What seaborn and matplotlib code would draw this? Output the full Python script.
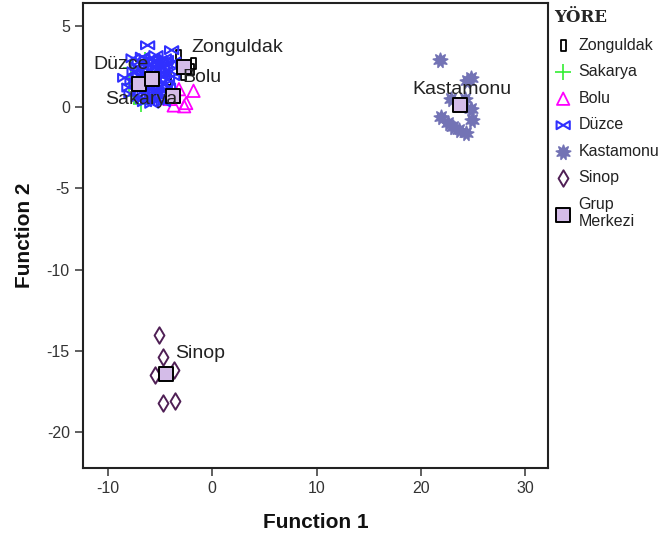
import numpy as np
import pandas as pd
import matplotlib
matplotlib.use('Agg')
import matplotlib.pyplot as plt
from matplotlib.path import Path
import seaborn as sns

# ---- data (discriminant scores) ----
zonguldak_x = [-3.2, -1.8, -2.0, -4.2, -2.8]
zonguldak_y = [3.2, 2.7, 2.3, 1.7, 2.0]

sakarya_x = [-8.0, -6.5, -7.5, -7.8, -6.8, -5.9]
sakarya_y = [1.4, 2.9, 0.65, 2.4, 0.2, 2.0]

bolu_x = [-3.2, -1.8, -2.5, -2.7, -4.1, -3.7]
bolu_y = [1.1, 1.0, 0.25, 0.05, 0.5, 0.1]

duzce_x = [-6.2, -7.6, -3.9, -7.8, -8.4, -5.0, -4.5, -5.5, -6.0, -6.6, -7.0, -5.2,
           -4.7, -4.3, -5.8, -6.3, -6.9, -5.0, -4.6, -5.5, -6.1, -6.7, -5.3, -4.9,
           -5.8, -4.2, -6.4, -5.7, -7.3, -7.2, -4.0, -5.9, -6.5, -5.1, -4.4,
           -8.0, -7.5, -7.0, -6.8, -6.2, -5.6, -5.3, -4.8, -4.1, -3.8, -4.5, -5.4,
           -6.0, -6.6, -7.1, -6.2, -5.6, -4.7, -4.3, -5.1, -7.7, -6.9, -5.9, -4.9,
           -3.7, -5.4, -6.7, -4.6]
duzce_y = [3.8, 3.0, 3.5, 0.8, 1.8, 2.9, 2.6, 2.5, 2.2, 2.0, 1.9, 2.0,
           2.1, 1.7, 1.6, 1.4, 1.2, 1.3, 1.0, 0.9, 0.7, 0.5, 0.4, 0.6,
           0.2, 1.2, 2.7, 3.0, 1.5, 2.5, 2.2, 1.1, 0.3, 1.7, 2.9,
           1.2, 2.2, 2.8, 0.9, 1.9, 2.8, 2.3, 2.4, 2.6, 1.9, 1.4, 1.1,
           1.5, 1.6, 0.6, 0.4, 0.5, 0.3, 0.8, 0.9, 1.6, 2.3, 2.6, 1.9,
           2.8, 3.2, 3.1, 3.0]

kastamonu_x = [21.8, 24.8, 24.4, 22.9, 24.2, 24.8, 21.9, 23.1, 23.7, 24.3, 22.6, 24.9]
kastamonu_y = [2.9, 1.8, 1.6, 0.5, 0.5, -0.1, -0.6, -1.2, -1.4, -1.6, -1.0, -0.8]

sinop_x = [-5.15, -4.7, -5.5, -3.7, -4.7, -3.6]
sinop_y = [-14.0, -15.35, -16.45, -16.15, -18.2, -18.1]

groups = ['Zonguldak', 'Sakarya', 'Bolu', 'Düzce', 'Kastamonu', 'Sinop']
centroid_x = [-2.7, -7.0, -3.75, -5.75, 23.8, -4.4]
centroid_y = [2.45, 1.4, 0.65, 1.7, 0.1, -16.4]

df = pd.concat([
    pd.DataFrame({'f1': zonguldak_x, 'f2': zonguldak_y, 'yore': 'Zonguldak'}),
    pd.DataFrame({'f1': sakarya_x, 'f2': sakarya_y, 'yore': 'Sakarya'}),
    pd.DataFrame({'f1': bolu_x, 'f2': bolu_y, 'yore': 'Bolu'}),
    pd.DataFrame({'f1': duzce_x, 'f2': duzce_y, 'yore': 'Düzce'}),
    pd.DataFrame({'f1': kastamonu_x, 'f2': kastamonu_y, 'yore': 'Kastamonu'}),
    pd.DataFrame({'f1': sinop_x, 'f2': sinop_y, 'yore': 'Sinop'}),
], ignore_index=True)
cent = pd.DataFrame({'f1': centroid_x, 'f2': centroid_y, 'yore': groups})

# ---- marker shapes ----
rect_path = Path([(-0.45, -1), (0.45, -1), (0.45, 1), (-0.45, 1), (-0.45, -1)],
                 [Path.MOVETO, Path.LINETO, Path.LINETO, Path.LINETO, Path.CLOSEPOLY])
bowtie_path = Path([(-1, -0.6), (-1, 0.6), (0, 0), (1, 0.6), (1, -0.6), (0, 0), (-1, -0.6)],
                   [Path.MOVETO] + [Path.LINETO] * 5 + [Path.CLOSEPOLY])

styles = {
    'Zonguldak': dict(marker=rect_path, s=60, color='black', facecolor='none', edgecolor='black', linewidth=1.3),
    'Sakarya': dict(marker='+', s=140, color='#33ee33', linewidth=1.2),
    'Bolu': dict(marker='^', s=80, color='#ff00ff', facecolor='none', edgecolor='#ff00ff', linewidth=1.3),
    'Düzce': dict(marker=bowtie_path, s=90, color='#3030ff', facecolor='none', edgecolor='#3030ff', linewidth=1.5),
    'Kastamonu': dict(marker=(9, 1, 0), s=110, color='#7373b5', edgecolor='#7373b5', linewidth=1.2),
    'Sinop': dict(marker='d', s=70, color='#4f1f55', facecolor='white', edgecolor='#4f1f55', linewidth=1.4),
}

# label offsets in pixels from the group centre
label_off = {
    'Zonguldak': (7, 20, 'left'),
    'Sakarya': (-34, -15, 'left'),
    'Bolu': (9, 19, 'left'),
    'Düzce': (-59, 15, 'left'),
    'Kastamonu': (2, 16, 'center'),
    'Sinop': (9, 20, 'left'),
}

sns.set_theme(style='white')
plt.rcParams['font.family'] = ['Liberation Sans', 'DejaVu Sans']
plt.rcParams['axes.unicode_minus'] = False

fig = plt.figure(figsize=(6.65, 5.38), dpi=100)
ax = fig.add_axes([83 / 665, 1 - 468 / 538, (548 - 83) / 665, (468 - 3) / 538])

for g in groups:
    sns.scatterplot(data=df[df['yore'] == g], x='f1', y='f2', ax=ax, label=g, zorder=2, **styles[g])

sns.scatterplot(data=cent, x='f1', y='f2', ax=ax, marker='s', s=105, color='#d4bce8',
                edgecolor='black', linewidth=1.4, label='Grup\nMerkezi', zorder=3)

for _, r in cent.iterrows():
    dx, dy, ha = label_off[r['yore']]
    ax.annotate(r['yore'], xy=(r['f1'], r['f2']), xytext=(dx, dy), textcoords='offset pixels',
                ha=ha, va='center', fontsize=14, color='#222222', zorder=4)

ax.set_xlim(-12.4, 32.2)
ax.set_ylim(-22.2, 6.4)
ax.set_xticks([-10, 0, 10, 20, 30])
ax.set_yticks([-20, -15, -10, -5, 0, 5])
ax.set_xlabel('Function 1', fontsize=15, fontweight='bold', labelpad=12, color='#111111')
ax.set_ylabel('Function 2', fontsize=15, fontweight='bold', labelpad=9, color='#111111')
ax.tick_params(axis='both', which='both', direction='out', length=6, width=1.2,
               colors='#444444', labelsize=11.5, bottom=True, left=True, top=False, right=False)
ax.tick_params(axis='both', labelcolor='#333333')
for sp in ax.spines.values():
    sp.set_color('#222222')
    sp.set_linewidth(1.5)

leg = ax.legend(loc='upper left', bbox_to_anchor=(1.0, 1.0), frameon=False, title='YÖRE',
                fontsize=11.5, handlelength=1.1, handletextpad=0.4, labelspacing=0.72,
                borderaxespad=0.0, alignment='left',
                title_fontproperties={'family': 'DejaVu Serif', 'weight': 'bold', 'size': 12})
for t in leg.get_texts():
    t.set_color('#222222')

fig.savefig('out.png', dpi=100)
